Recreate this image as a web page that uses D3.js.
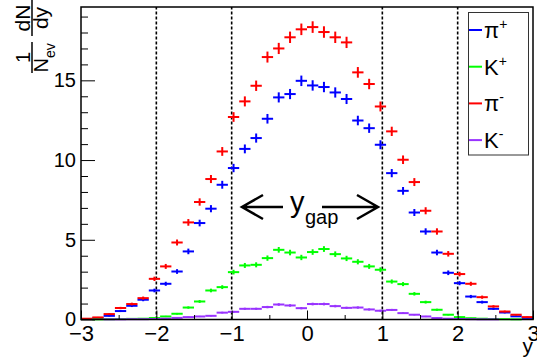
<!DOCTYPE html>
<html>
<head>
<meta charset="utf-8">
<script src="https://cdn.jsdelivr.net/npm/d3@7"></script>
<style>
  body { margin: 0; background: #fff; }
  text { font-family: "Liberation Sans", Arial, sans-serif; fill: #000; }
</style>
</head>
<body>
<div id="chart"></div>
<script>
// Binning: 40 bins of width 0.15 over y in [-3, 3]
const binLow = -3;
const binWidth = 0.15;
const nBins = 40;

// dN/dy per event (bin k = 0..39)
const piPlus = [0.03, 0.08, 0.23, 0.53, 0.86, 1.24, 1.82, 2.24, 3.01, 4.27,
  6.05, 6.95, 8.45, 9.5, 10.7, 11.38, 12.59, 13.93, 14.14, 14.97,
  14.68, 14.58, 14.24, 13.83, 12.48, 12.0, 10.96, 9.18, 8.07, 6.71,
  5.52, 4.2, 2.93, 2.28, 1.44, 1.09, 0.67, 0.44, 0.2, 0.1];
const kPlus = [0.0, 0.01, 0.02, 0.03, 0.04, 0.05, 0.09, 0.19, 0.36, 0.75,
  1.13, 1.82, 2.03, 2.97, 3.39, 3.43, 3.85, 4.37, 4.2, 3.89,
  4.23, 4.42, 4.1, 3.83, 3.62, 3.33, 3.12, 2.38, 2.22, 1.61,
  1.09, 0.61, 0.3, 0.15, 0.08, 0.05, 0.03, 0.02, 0.01, 0.0];
const piMinus = [0.05, 0.13, 0.34, 0.72, 0.97, 1.34, 2.55, 3.33, 4.83, 6.09,
  7.37, 8.81, 10.54, 12.7, 13.68, 14.66, 16.46, 17.0, 17.7, 18.2,
  18.34, 18.03, 17.7, 17.38, 15.5, 14.77, 13.36, 11.8, 10.02, 8.62,
  6.82, 5.52, 4.12, 2.85, 2.24, 1.4, 0.82, 0.5, 0.3, 0.15];
const kMinus = [0.0, 0.0, 0.01, 0.01, 0.02, 0.02, 0.03, 0.05, 0.1, 0.15,
  0.19, 0.23, 0.43, 0.48, 0.67, 0.67, 0.78, 0.94, 0.88, 0.71,
  0.97, 0.97, 0.84, 0.73, 0.75, 0.63, 0.55, 0.6, 0.4, 0.3,
  0.19, 0.09, 0.05, 0.03, 0.02, 0.01, 0.01, 0.0, 0.0, 0.0];

const seriesNames = ["π+", "K+", "π-", "K-"];
const seriesColors = ["#0000ff", "#00ff00", "#ff0000", "#9933ff"];
const legendLabels = [["π", "+"], ["K", "+"], ["π", "-"], ["K", "-"]];

const xMajorTicks = [-3, -2, -1, 0, 1, 2, 3];
const xMinorTicks = [-2.5, -1.5, -0.5, 0.5, 1.5, 2.5];
const yMajorTicks = [0, 5, 10, 15];
const yMinorTicks = [1, 2, 3, 4, 6, 7, 8, 9, 11, 12, 13, 14, 16, 17, 18, 19];
const gapLines = [-2, -1, 1, 2];

// Layout
const W = 537, H = 358;
const margin = {top: 7, right: 4, bottom: 38.5, left: 81};

const svg = d3.select("#chart")
  .append("svg")
    .attr("width", W)
    .attr("height", H);

const x = d3.scaleLinear().domain([-3, 3]).range([margin.left, W - margin.right]);
const y = d3.scaleLinear().domain([0, 19.6]).range([H - margin.bottom, margin.top]);

// Vertical dashed lines marking the gap
svg.append("g")
  .selectAll("line")
  .data(gapLines)
  .join("line")
    .attr("x1", d => x(d)).attr("x2", d => x(d))
    .attr("y1", y(0)).attr("y2", y.range()[1])
    .attr("stroke", "#000")
    .attr("stroke-width", 1.6)
    .attr("stroke-dasharray", "3,2");

// Histograms with error bars
const allSeries = [piPlus, kPlus, piMinus, kMinus];
const bins = d3.range(nBins);
allSeries.forEach((vals, s) => {
  const g = svg.append("g").attr("stroke", seriesColors[s]).attr("stroke-width", 2);
  const pts = bins.map(k => ({k, v: vals[k]})).filter(d => d.v > 0);
  g.selectAll("line.h")
    .data(pts)
    .join("line")
      .attr("class", "h")
      .attr("x1", d => x(binLow + d.k * binWidth))
      .attr("x2", d => x(binLow + (d.k + 1) * binWidth))
      .attr("y1", d => y(d.v)).attr("y2", d => y(d.v));
  // statistical error bar ~ sqrt
  g.selectAll("line.v")
    .data(pts)
    .join("line")
      .attr("class", "v")
      .attr("x1", d => x(binLow + (d.k + 0.5) * binWidth))
      .attr("x2", d => x(binLow + (d.k + 0.5) * binWidth))
      .attr("y1", d => y(d.v - 0.085 * Math.sqrt(d.v)))
      .attr("y2", d => y(d.v + 0.085 * Math.sqrt(d.v)));
});

// Axes, ticks pointing inside like ROOT
const xAxis = svg.append("g")
  .attr("transform", `translate(0,${y(0)})`)
  .call(d3.axisBottom(x).tickValues(xMajorTicks).tickSize(-9).tickSizeOuter(0).tickPadding(6)
    .tickFormat(d3.format("d")));
xAxis.selectAll("text").attr("font-size", 22).attr("font-family", "Liberation Sans, Arial, sans-serif");
xAxis.select(".domain").remove();
svg.append("g")
  .attr("transform", `translate(0,${y(0)})`)
  .call(d3.axisBottom(x).tickValues(xMinorTicks).tickSize(-4.5).tickFormat(""))
  .select(".domain").remove();

const yAxis = svg.append("g")
  .attr("transform", `translate(${x(-3)},0)`)
  .call(d3.axisLeft(y).tickValues(yMajorTicks).tickSize(-14).tickSizeOuter(0).tickPadding(5));
yAxis.selectAll("text").attr("font-size", 20).attr("font-family", "Liberation Sans, Arial, sans-serif");
yAxis.select(".domain").remove();
svg.append("g")
  .attr("transform", `translate(${x(-3)},0)`)
  .call(d3.axisLeft(y).tickValues(yMinorTicks).tickSize(-7).tickFormat(""))
  .select(".domain").remove();

svg.selectAll(".tick line").attr("stroke", "#000").attr("stroke-width", 1);

// Frame
svg.append("rect")
  .attr("x", x(-3)).attr("y", y.range()[1])
  .attr("width", x(3) - x(-3)).attr("height", y(0) - y.range()[1])
  .attr("fill", "none").attr("stroke", "#000").attr("stroke-width", 1.5);

// Axis titles
svg.append("text")
  .attr("x", x(3)).attr("y", 353)
  .attr("text-anchor", "end")
  .attr("font-size", 21)
  .text("y");

const yt = svg.append("g").attr("transform", "translate(32,73) rotate(-90)");
yt.append("line").attr("x1", 0).attr("x2", 31).attr("y1", 0).attr("y2", 0)
  .attr("stroke", "#000").attr("stroke-width", 1.5);
yt.append("text").attr("x", 15.5).attr("y", -2).attr("text-anchor", "middle")
  .attr("font-size", 20).text("1");
const nev = yt.append("text").attr("x", 0.5).attr("y", 16).attr("font-size", 20);
nev.append("tspan").text("N");
nev.append("tspan").attr("font-size", 14).attr("dy", 7).text("ev");
yt.append("line").attr("x1", 37).attr("x2", 73).attr("y1", 0).attr("y2", 0)
  .attr("stroke", "#000").attr("stroke-width", 1.5);
yt.append("text").attr("x", 55).attr("y", -2).attr("text-anchor", "middle")
  .attr("font-size", 21).text("dN");
yt.append("text").attr("x", 55).attr("y", 16).attr("text-anchor", "middle")
  .attr("font-size", 21).text("dy");

// y_gap annotation with arrows
const ann = svg.append("g").attr("stroke", "#000").attr("stroke-width", 2.5).attr("fill", "none");
const ay = 207;
ann.append("path").attr("d", `M242,${ay} H283 M263,${ay - 12} L242,${ay} L263,${ay + 12}`);
ann.append("path").attr("d", `M322,${ay} H378 M357,${ay - 12} L378,${ay} L357,${ay + 12}`);
svg.append("text").attr("x", 290).attr("y", 212).attr("font-size", 29).text("y");
svg.append("text").attr("x", 305).attr("y", 224).attr("font-size", 20).text("gap");

// Legend
const lg = svg.append("g");
lg.append("rect")
  .attr("x", 468.5).attr("y", 12.5).attr("width", 60).attr("height", 142.5)
  .attr("fill", "#fff").attr("stroke", "#333").attr("stroke-width", 1);
const entries = lg.selectAll("g.entry")
  .data(seriesNames.map((n, i) => ({n, i})))
  .join("g")
    .attr("class", "entry")
    .attr("transform", d => `translate(0,${30 + d.i * 36.7})`);
entries.append("line")
  .attr("x1", 469).attr("x2", 482).attr("y1", 0).attr("y2", 0)
  .attr("stroke", d => seriesColors[d.i]).attr("stroke-width", 2);
const lt = entries.append("text").attr("x", 484).attr("y", 8).attr("font-size", 22);
lt.append("tspan").text(d => legendLabels[d.i][0]);
lt.append("tspan").attr("font-size", 14).attr("dy", -9).text(d => legendLabels[d.i][1]);
</script>
</body>
</html>
